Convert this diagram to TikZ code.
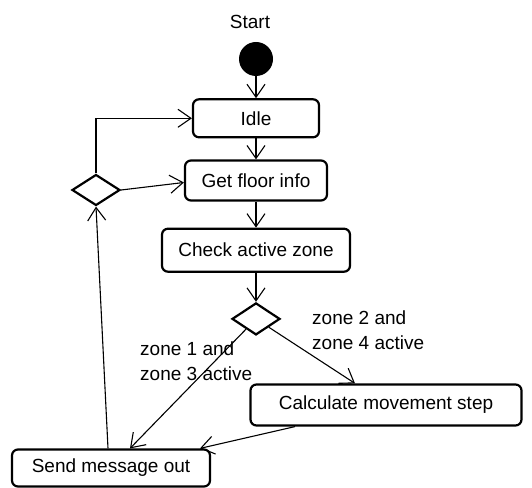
\documentclass[tikz,border=0pt]{standalone}
\usepackage{fontspec}
\setmainfont{Liberation Sans}
\usetikzlibrary{arrows.meta,positioning,shapes.geometric}
\definecolor{umlInk}{RGB}{0,0,0}
\newcommand{\umlfont}{\fontsize{19}{25}\selectfont}
\tikzset{
  actbox/.style={
    rectangle, rounded corners=6pt, draw=umlInk, line width=2.2pt,
    fill=white, align=center, inner sep=0pt, font=\umlfont},
  decision/.style={
    diamond, draw=umlInk, line width=2.2pt, fill=white, inner sep=0pt,
    minimum width=48pt, minimum height=32pt},
  startdot/.style={
    circle, fill=umlInk, inner sep=0pt, minimum size=34pt},
  guard/.style={
    align=left, inner sep=0pt, anchor=north west, font=\umlfont},
  flowline/.style={-{Straight Barb[length=13pt,width=18pt]}, line width=1.1pt, draw=umlInk}
}
\begin{document}
\begin{tikzpicture}[x=1pt,y=1pt]
    \useasboundingbox[fill=white] (0,0) rectangle (532,487);

    % ---- main column -------------------------------------------
    \node[font=\umlfont] (startlbl) at (250,465) {Start};
    \node[startdot] (init) at (256,428) {};
    \node[actbox, minimum width=126pt, minimum height=38pt, below=22pt of init]  (idle)  {Idle};
    \node[actbox, minimum width=142pt, minimum height=40pt, below=21pt of idle]  (floor) {Get floor info};
    \node[actbox, minimum width=188pt, minimum height=43pt, below=26pt of floor] (check) {Check active zone};
    \node[decision, below=29pt of check] (zonedec) {};

    \draw[flowline] (init)  -- (idle);
    \draw[flowline] (idle)  -- (floor);
    \draw[flowline] (floor) -- (check);
    \draw[flowline] (check) -- (zonedec);

    % ---- branches ----------------------------------------------
    \node[actbox, minimum width=271pt, minimum height=41pt] (calc) at (386,82) {Calculate movement step};
    \node[actbox, minimum width=198pt, minimum height=37pt] (send) at (111,19) {Send message out};
    \node[decision, minimum height=31pt] (loopdec) at (96,297) {};

    \node[guard] (g13) at (140,145) {zone 1 and\\zone 3 active};
    \node[guard] (g24) at (312,176) {zone 2 and\\zone 4 active};

    \draw[flowline] (zonedec) -- ([xshift=19pt]send.north);
    \draw[flowline] (zonedec) -- ([xshift=-31pt]calc.north);
    \draw[flowline] ([xshift=-91pt]calc.south) -- ([xshift=89pt]send.north);

    % ---- loop back ---------------------------------------------
    \draw[flowline] ([xshift=-3pt]send.north) -- (loopdec.south);
    \draw[flowline] (loopdec.north) |- (idle.west);
    \draw[flowline] (loopdec.east) -- ([yshift=-2pt]floor.west);

\end{tikzpicture}
\end{document}
